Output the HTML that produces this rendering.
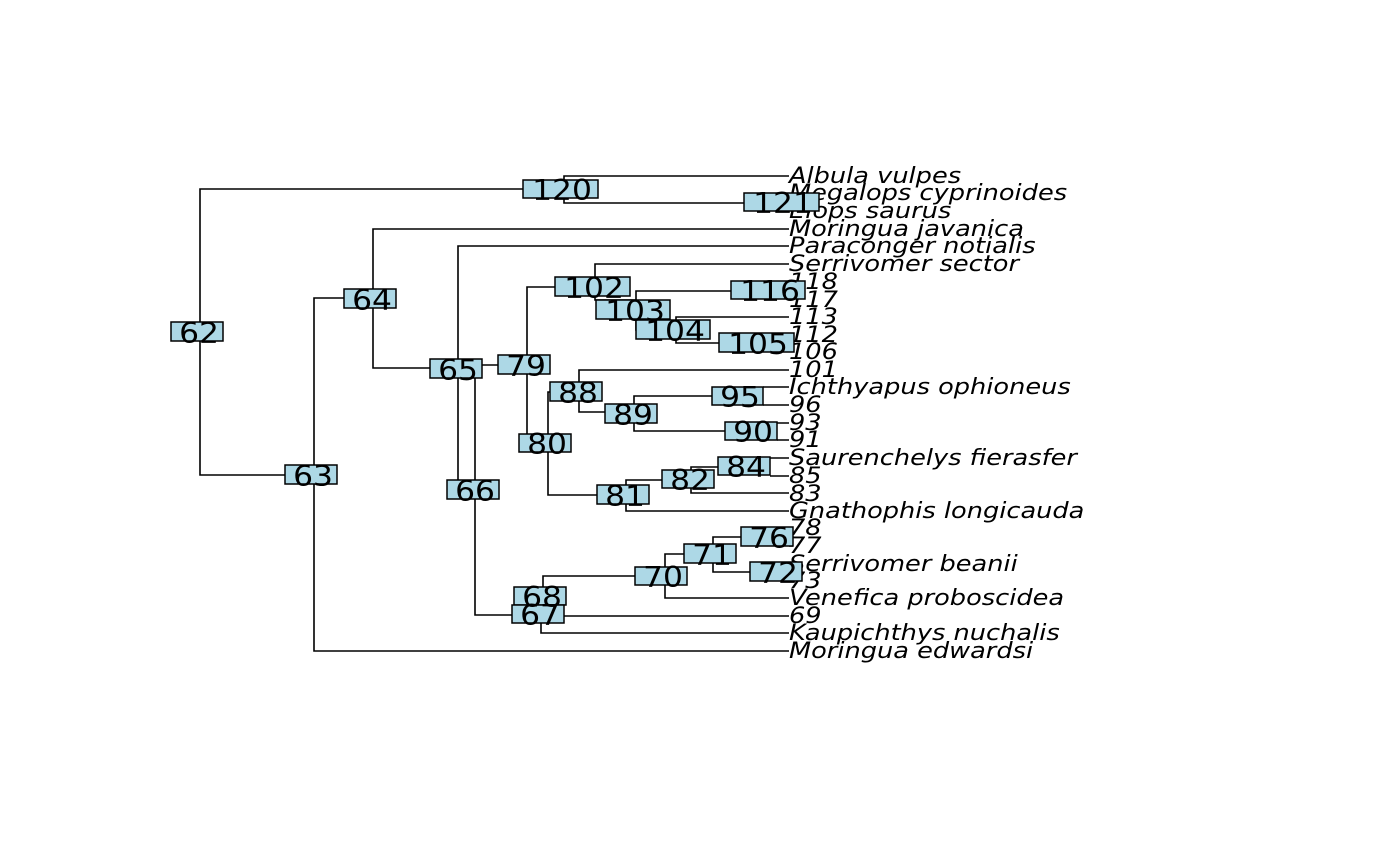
<!DOCTYPE html>
<html><head><meta charset="utf-8"><style>
html,body{margin:0;padding:0;background:#fff;}
svg{display:block;}
.t{font-family:"DejaVu Sans","Liberation Sans",sans-serif;font-style:italic;font-size:22.5px;fill:#000;}
.n{font-family:"DejaVu Sans","Liberation Sans",sans-serif;font-size:28.5px;fill:#000;text-anchor:middle;}
rect{fill:#add8e6;stroke:#000;stroke-width:1.5;}
</style></head><body>
<svg width="1400" height="866" viewBox="0 0 1400 866" xmlns="http://www.w3.org/2000/svg">
<g stroke="#000" stroke-width="1.6" fill="none">
<path d="M564 189H200V475H314"/>
<path d="M789 176H564V203H782"/>
<path d="M373 298H314V651H789"/>
<path d="M789 229H373V368H458"/>
<path d="M789 246H458V490H475"/>
<path d="M458 365H527"/>
<path d="M475 368V615H541"/>
<path d="M595 287H527V443H548"/>
<path d="M789 264H595V300H636"/>
<path d="M768 291H636V330H676"/>
<path d="M789 317H676V343H757"/>
<path d="M789 370H579V412H634"/>
<path d="M579 392H548V495H626"/>
<path d="M757 396H634V431H751"/>
<path d="M763 387H789M763 405H789M777 423H789M777 440H789"/>
<path d="M691 480H626V511H789"/>
<path d="M743 467H691V493H789"/>
<path d="M770 458H789M770 476H789"/>
<path d="M665 576H543V605"/>
<path d="M541 605V633H789"/>
<path d="M564 616H789"/>
<path d="M713 554H665V598H789"/>
<path d="M767 537H713V572H776"/>
<path d="M793 528H789M793 546H789"/>
</g>
<g class="t" transform="translate(789,0) scale(1.14,1)">
<text x="0" y="183">Albula vulpes</text>
<text x="0" y="200">Megalops cyprinoides</text>
<text x="0" y="218">Elops saurus</text>
<text x="0" y="236">Moringua javanica</text>
<text x="0" y="253">Paraconger notialis</text>
<text x="0" y="271">Serrivomer sector</text>
<text x="0" y="289">118</text>
<text x="0" y="307">117</text>
<text x="0" y="324">113</text>
<text x="0" y="342">112</text>
<text x="0" y="359">106</text>
<text x="0" y="377">101</text>
<text x="0" y="394">Ichthyapus ophioneus</text>
<text x="0" y="412">96</text>
<text x="0" y="430">93</text>
<text x="0" y="447">91</text>
<text x="0" y="465">Saurenchelys fierasfer</text>
<text x="0" y="483">85</text>
<text x="0" y="501">83</text>
<text x="0" y="518">Gnathophis longicauda</text>
<text x="0" y="535">78</text>
<text x="0" y="553">77</text>
<text x="0" y="571">Serrivomer beanii</text>
<text x="0" y="588">73</text>
<text x="0" y="605">Venefica proboscidea</text>
<text x="0" y="623">69</text>
<text x="0" y="640">Kaupichthys nuchalis</text>
<text x="0" y="658">Moringua edwardsi</text>
</g>
<g>
<rect x="171" y="322" width="52" height="19"/>
<rect x="523" y="180" width="75" height="18"/>
<rect x="744" y="193" width="75" height="18"/>
<rect x="285" y="465" width="52" height="19"/>
<rect x="344" y="289" width="52" height="19"/>
<rect x="430" y="359" width="52" height="19"/>
<rect x="447" y="480" width="52" height="19"/>
<rect x="498" y="355" width="52" height="19"/>
<rect x="555" y="277" width="75" height="19"/>
<rect x="731" y="281" width="74" height="18"/>
<rect x="596" y="300" width="74" height="19"/>
<rect x="636" y="320" width="74" height="19"/>
<rect x="719" y="333" width="75" height="19"/>
<rect x="550" y="382" width="52" height="19"/>
<rect x="712" y="387" width="51" height="18"/>
<rect x="605" y="404" width="52" height="19"/>
<rect x="725" y="422" width="52" height="18"/>
<rect x="519" y="434" width="52" height="18"/>
<rect x="718" y="457" width="52" height="18"/>
<rect x="662" y="470" width="52" height="18"/>
<rect x="597" y="485" width="52" height="19"/>
<rect x="741" y="527" width="52" height="19"/>
<rect x="684" y="544" width="52" height="19"/>
<rect x="750" y="562" width="52" height="19"/>
<rect x="635" y="567" width="52" height="18"/>
<rect x="514" y="587" width="52" height="18"/>
<rect x="512" y="605" width="52" height="18"/>
</g>
<g class="n">
<text transform="translate(199,343) scale(1.1,1)">62</text>
<text transform="translate(562,200) scale(1.1,1)">120</text>
<text transform="translate(783,213) scale(1.1,1)">121</text>
<text transform="translate(313,486) scale(1.1,1)">63</text>
<text transform="translate(372,310) scale(1.1,1)">64</text>
<text transform="translate(458,380) scale(1.1,1)">65</text>
<text transform="translate(475,501) scale(1.1,1)">66</text>
<text transform="translate(526,376) scale(1.1,1)">79</text>
<text transform="translate(594,298) scale(1.1,1)">102</text>
<text transform="translate(770,301) scale(1.1,1)">116</text>
<text transform="translate(635,321) scale(1.1,1)">103</text>
<text transform="translate(675,341) scale(1.1,1)">104</text>
<text transform="translate(758,354) scale(1.1,1)">105</text>
<text transform="translate(578,403) scale(1.1,1)">88</text>
<text transform="translate(740,407) scale(1.1,1)">95</text>
<text transform="translate(633,425) scale(1.1,1)">89</text>
<text transform="translate(753,442) scale(1.1,1)">90</text>
<text transform="translate(547,454) scale(1.1,1)">80</text>
<text transform="translate(746,477) scale(1.1,1)">84</text>
<text transform="translate(690,490) scale(1.1,1)">82</text>
<text transform="translate(625,506) scale(1.1,1)">81</text>
<text transform="translate(769,548) scale(1.1,1)">76</text>
<text transform="translate(712,565) scale(1.1,1)">71</text>
<text transform="translate(778,583) scale(1.1,1)">72</text>
<text transform="translate(663,587) scale(1.1,1)">70</text>
<text transform="translate(542,607) scale(1.1,1)">68</text>
<text transform="translate(540,625) scale(1.1,1)">67</text>
</g>
</svg>
</body></html>
